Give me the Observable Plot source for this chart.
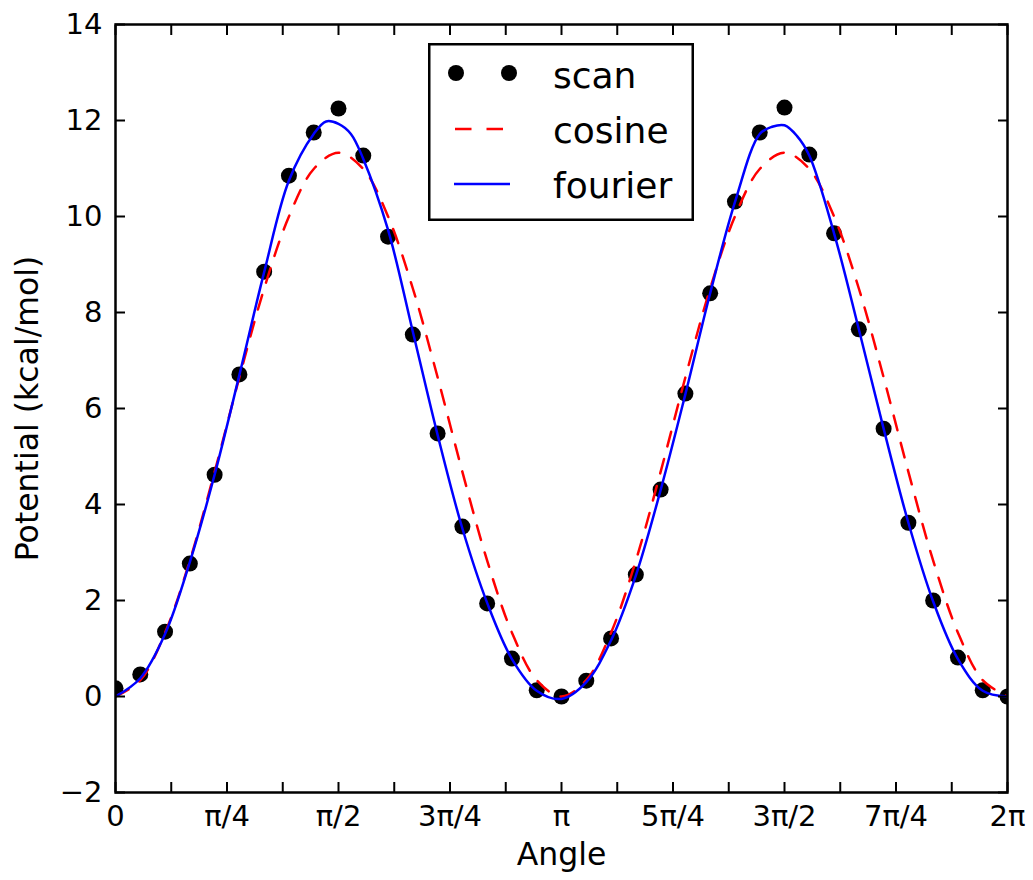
<!DOCTYPE html>
<html>
<head>
<meta charset="utf-8">
<script src="https://cdn.jsdelivr.net/npm/d3@7"></script>
<script src="https://cdn.jsdelivr.net/npm/@observablehq/plot@0.6"></script>
<style>
  body { margin: 0; background: #fff; }
  #wrap { position: relative; width: 1033px; height: 880px; font-family: "DejaVu Sans", sans-serif; background: #fff; }
  #legend { position: absolute; left: 428px; top: 43px; width: 266px; height: 178px; }
</style>
</head>
<body>
<div id="wrap"></div>
<script>
// ---- data (angles in degrees, values in kcal/mol) ----
const scanAngles = [0,10,20,30,40,50,60,70,80,90,100,110,120,130,140,150,160,170,180,190,200,210,220,230,240,250,260,270,280,290,300,310,320,330,340,350,360];
const scanValues = [0.17,0.46,1.35,2.77,4.62,6.71,8.85,10.85,11.75,12.25,11.27,9.58,7.54,5.48,3.54,1.94,0.79,0.13,0.0,0.33,1.21,2.54,4.31,6.31,8.40,10.31,11.75,12.27,11.29,9.65,7.65,5.58,3.62,2.0,0.81,0.13,0.0];

const cosineAngles = [0,10,20,30,40,50,60,70,80,90,100,110,120,130,140,150,160,170,180,190,200,210,220,230,240,250,260,270,280,290,300,310,320,330,340,350,360];
const cosineValues = [0,0.34,1.33,2.83,4.68,6.65,8.50,10.0,10.99,11.33,10.99,10.0,8.50,6.65,4.68,2.83,1.33,0.34,0,0.34,1.33,2.83,4.68,6.65,8.50,10.0,10.99,11.33,10.99,10.0,8.50,6.65,4.68,2.83,1.33,0.34,0];

const fourierAngles = [0,10,20,30,40,50,60,70,80,85,90,95,100,110,120,130,140,150,160,170,180,190,200,210,220,230,240,250,260,265,270,275,280,290,300,310,320,330,340,350,360];
const fourierValues = [0.0,0.38,1.3,2.8,4.62,6.7,8.84,10.75,11.72,11.98,11.93,11.72,11.2,9.72,7.6,5.45,3.5,1.95,0.78,0.12,-0.05,0.3,1.17,2.52,4.3,6.3,8.4,10.3,11.72,11.87,11.9,11.68,11.27,9.65,7.65,5.58,3.62,1.98,0.78,0.12,0.0];

const xTickValues = [0,45,90,135,180,225,270,315,360];
const xTickLabels = ["0","π/4","π/2","3π/4","π","5π/4","3π/2","7π/4","2π"];
const xAllTicks = [0,22.5,45,67.5,90,112.5,135,157.5,180,202.5,225,247.5,270,292.5,315,337.5,360];
const yTickValues = [-2,0,2,4,6,8,10,12,14];

const seriesNames = ["scan","cosine","fourier"];
const seriesColors = ["#000000","#ff0000","#0000ff"];

// ---- tables built from the arrays ----
const scanData = scanAngles.map((a,i) => ({angle: a, value: scanValues[i]}));
const cosineData = cosineAngles.map((a,i) => ({angle: a, value: cosineValues[i]}));
const fourierData = fourierAngles.map((a,i) => ({angle: a, value: fourierValues[i]}));
const xLabelMap = new Map(xTickValues.map((v,i) => [v, xTickLabels[i]]));

const dash = "15,13";

const chart = Plot.plot({
  width: 1033,
  height: 880,
  marginLeft: 115,
  marginRight: 26,
  marginTop: 24,
  marginBottom: 88,
  style: {fontFamily: "DejaVu Sans, sans-serif", fontSize: "29px", color: "#000", background: "#fff"},
  x: {domain: [0, 360], axis: null},
  y: {domain: [-2, 14], axis: null},
  marks: [
    Plot.dot(scanData, {x: "angle", y: "value", r: 8, fill: seriesColors[0], stroke: "none", clip: true}),
    Plot.line(cosineData, {x: "angle", y: "value", stroke: seriesColors[1], strokeWidth: 2.5, strokeDasharray: dash, curve: "catmull-rom", clip: true}),
    Plot.line(fourierData, {x: "angle", y: "value", stroke: seriesColors[2], strokeWidth: 2.5, curve: "catmull-rom", clip: true}),
    Plot.axisX(xAllTicks, {anchor: "bottom", tickSize: -10, strokeWidth: 2, fill: "none", label: null}),
    Plot.axisX(xAllTicks, {anchor: "top", tickSize: -10, strokeWidth: 2, fill: "none", label: null}),
    Plot.axisX(xTickValues, {anchor: "bottom", tickSize: 0, tickPadding: 13, tickFormat: d => xLabelMap.get(d), label: null}),
    Plot.axisY(yTickValues, {anchor: "left", tickSize: -10, strokeWidth: 2, fill: "none", label: null}),
    Plot.axisY(yTickValues, {anchor: "right", tickSize: -10, strokeWidth: 2, fill: "none", label: null}),
    Plot.axisY(yTickValues, {anchor: "left", tickSize: 0, tickPadding: 13, tickFormat: d => d < 0 ? "\u2212" + Math.abs(d) : String(d), label: null}),
    Plot.frame({stroke: "#000", strokeWidth: 2.5}),
    Plot.text(["Angle"], {frameAnchor: "bottom", dy: 72, lineAnchor: "bottom", textAnchor: "middle", fontSize: 31.5, fill: "#000"}),
    Plot.text(["Potential (kcal/mol)"], {frameAnchor: "left", dx: -78, rotate: -90, lineAnchor: "bottom", textAnchor: "middle", fontSize: 31.5, fill: "#000"})
  ]
});

const wrap = document.getElementById("wrap");
wrap.appendChild(chart);

// ---- legend (inside the axes, upper centre) ----
const ns = "http://www.w3.org/2000/svg";
const lg = document.createElementNS(ns, "svg");
lg.setAttribute("id", "legend");
lg.setAttribute("width", 266);
lg.setAttribute("height", 178);
lg.style.fontFamily = "DejaVu Sans, sans-serif";
function el(tag, attrs) {
  const e = document.createElementNS(ns, tag);
  for (const k in attrs) e.setAttribute(k, attrs[k]);
  lg.appendChild(e);
  return e;
}
el("rect", {x: 1.25, y: 1.25, width: 263.5, height: 175.5, fill: "#fff", stroke: "#000", "stroke-width": 2.5});
const rowY = [30, 86, 141];
const textY = [45, 100, 155];
// scan swatch
el("circle", {cx: 28, cy: rowY[0], r: 8, fill: seriesColors[0]});
el("circle", {cx: 81, cy: rowY[0], r: 8, fill: seriesColors[0]});
// cosine swatch
el("line", {x1: 27, x2: 76, y1: rowY[1], y2: rowY[1], stroke: seriesColors[1], "stroke-width": 2.5, "stroke-dasharray": "16.5,15"});
// fourier swatch
el("line", {x1: 26, x2: 82, y1: rowY[2], y2: rowY[2], stroke: seriesColors[2], "stroke-width": 2.5});
seriesNames.forEach((name, i) => {
  const t = el("text", {x: 125, y: textY[i], "font-size": 36, fill: "#000"});
  t.textContent = name;
});
wrap.appendChild(lg);
</script>
</body>
</html>
